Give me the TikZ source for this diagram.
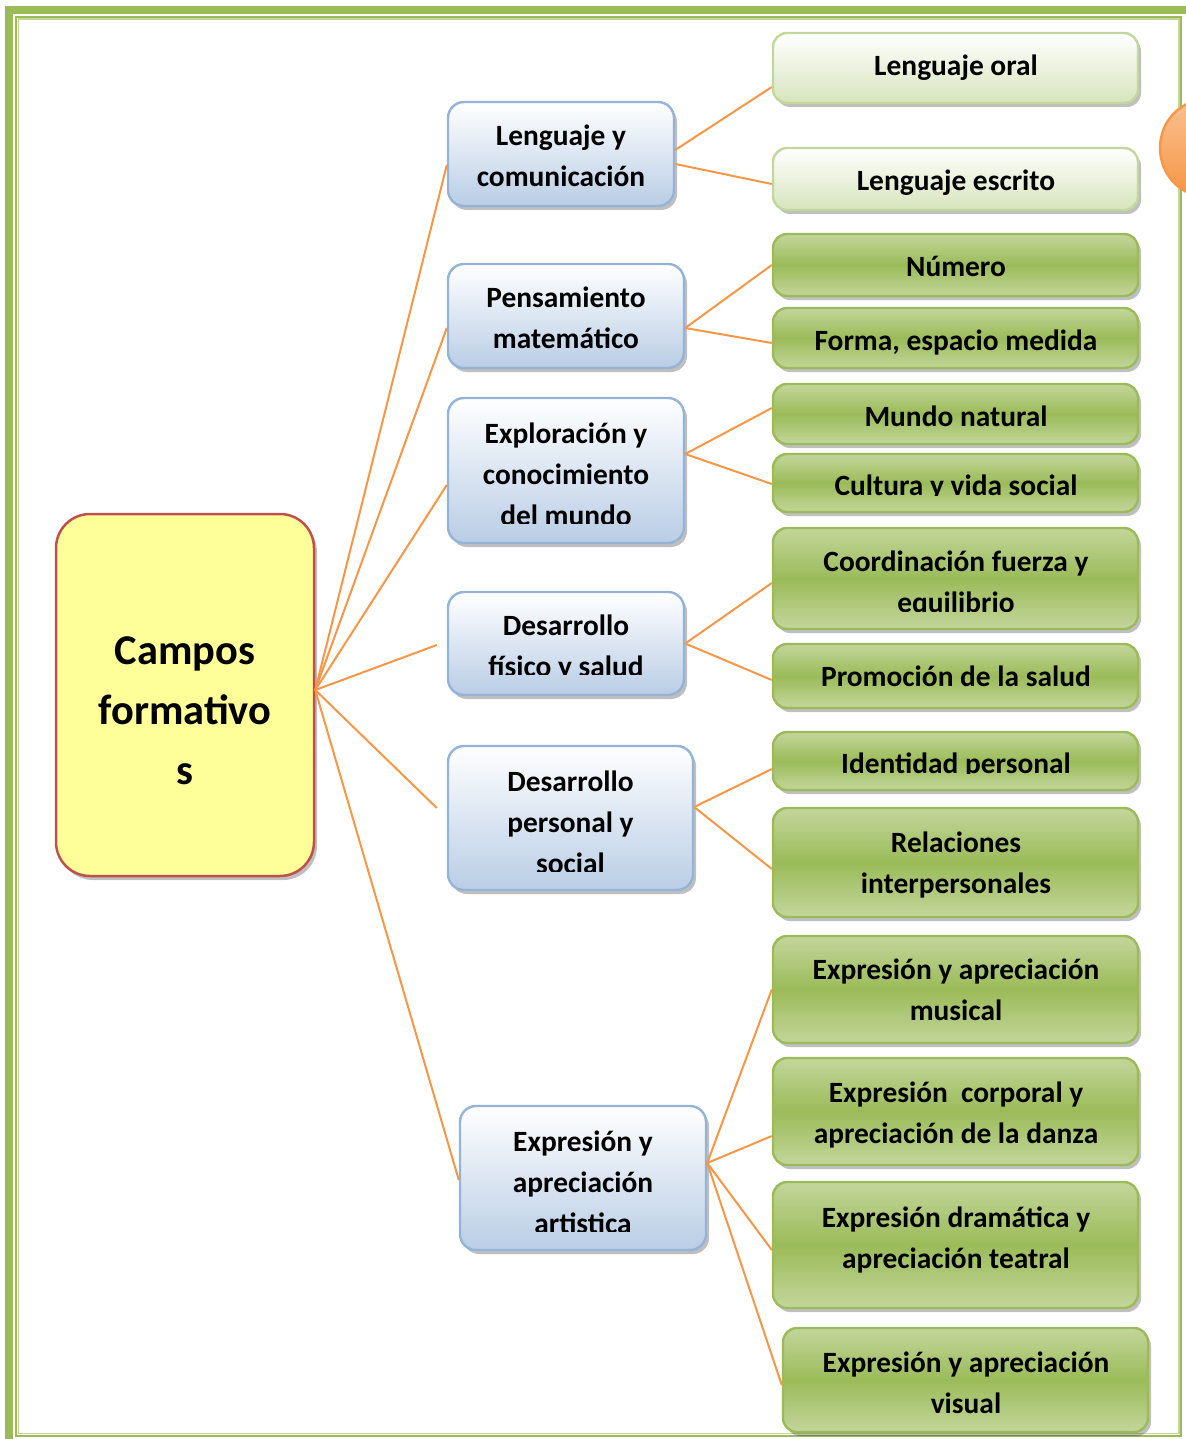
\documentclass[tikz,border=0pt]{standalone}
\usepackage{fontspec}
\setmainfont{Carlito}
\usetikzlibrary{shapes.geometric,shadows,calc}
\definecolor{grn}{HTML}{9BBB59}
\definecolor{grnl}{HTML}{C3D69B}
\definecolor{grnll}{HTML}{D7E4BD}
\definecolor{blu}{HTML}{95B3D7}
\definecolor{blul}{HTML}{B9CDE5}
\definecolor{ylw}{HTML}{FFFF99}
\definecolor{redb}{HTML}{C0504D}
\definecolor{org}{HTML}{F79646}
\definecolor{orgl}{HTML}{FAC08F}
\newcommand\lnst{\rule[-4pt]{0pt}{16.5pt}}
\newcommand\bgst{\rule[-5pt]{0pt}{22pt}}
\tikzset{
  shd/.style={drop shadow={shadow xshift=1.5pt,shadow yshift=-2pt,opacity=0.25,fill=black}},
  cbox/.style={rectangle,rounded corners=17pt,draw=redb,line width=1.25pt,fill=ylw,shd,inner sep=0pt},
  bbox/.style={rectangle,rounded corners=8pt,draw=blu,line width=1.2pt,top color=white,bottom color=blul,shd,inner sep=0pt},
  lgbox/.style={rectangle,rounded corners=7pt,draw=grnl,line width=1.2pt,top color=white,bottom color=grnll,shd,inner sep=0pt},
  gbox/.style={rectangle,rounded corners=7pt,draw=grn,line width=1.2pt,top color=grnl,bottom color=grnl,middle color=grn,shd,inner sep=0pt},
  txt/.style={align=center,font=\fontsize{14.7}{20.5}\selectfont\bfseries,inner sep=0pt},
  bigtxt/.style={align=center,font=\fontsize{21.2}{30}\selectfont\bfseries,inner sep=0pt},
  con/.style={draw=org,line width=1pt}
}
\begin{document}
\begin{tikzpicture}[x=0.5pt,y=-0.5pt]
\useasboundingbox (0,0) rectangle (1185,1439);
% page border
\draw[grn,line width=4.25pt] (9,9.8) rectangle (1196,1450);
\draw[grn,line width=0.9pt] (16.2,17) rectangle (1181,1436);
\draw[grnl,line width=0.75pt] (18.4,19.2) rectangle (1179.2,1433.6);
% orange ellipse at the right edge
\node[ellipse,minimum width=45pt,minimum height=48pt,draw=org,line width=1.2pt,top color=orgl,bottom color=org,inner sep=0pt] (ov) at (1205,148) {};

% central node
\node[cbox,minimum width=129pt,minimum height=181pt] (c) at (185,695) {};
\node[bigtxt] (ct) at (185,712) {\bgst Campos\\\bgst formativo\\\bgst s};

% level 1 (blue)
\node[bbox,minimum width=113pt,minimum height=52pt] (b1) at (561,154) {};
\node[bbox,minimum width=118pt,minimum height=52pt] (b2) at (566,316) {};
\node[bbox,minimum width=118pt,minimum height=72.5pt] (b3) at (566,470.5) {};
\node[bbox,minimum width=118pt,minimum height=51.5pt] (b4) at (566,643.5) {};
\node[bbox,minimum width=122.5pt,minimum height=72pt] (b5) at (570.5,818) {};
\node[bbox,minimum width=123pt,minimum height=72pt] (b6) at (583,1178) {};

\node[txt] (t1) at (561,158) {\lnst Lenguaje y\\\lnst comunicación};
\node[txt] (t2) at (566,319.5) {\lnst Pensamiento\\\lnst matemático};
\begin{scope}
\clip (440,390) rectangle (700,523);
\node[txt] (t3) at (566,476) {\lnst Exploración y\\\lnst conocimiento\\\lnst del mundo};
\end{scope}
\begin{scope}
\clip (440,585) rectangle (700,674.5);
\node[txt] (t4) at (566,647.5) {\lnst Desarrollo\\\lnst físico y salud};
\end{scope}
\begin{scope}
\clip (440,740) rectangle (700,871);
\node[txt] (t5) at (570.5,824) {\lnst Desarrollo\\\lnst personal y\\\lnst social};
\end{scope}
\begin{scope}
\clip (450,1100) rectangle (720,1231);
\node[txt] (t6) at (583,1184) {\lnst Expresión y\\\lnst apreciación\\\lnst artistica};
\end{scope}

% level 2 (green)
\node[lgbox,minimum width=182.5pt,minimum height=35pt] (ga) at (955.5,68) {};
\node[lgbox,minimum width=182.5pt,minimum height=31pt] (gb) at (955.5,179) {};
\node[gbox,minimum width=182.5pt,minimum height=31pt] (gc) at (955.5,265) {};
\node[gbox,minimum width=182.5pt,minimum height=30pt] (gd) at (955.5,338) {};
\node[gbox,minimum width=182.5pt,minimum height=30pt] (ge) at (955.5,414) {};
\node[gbox,minimum width=182.5pt,minimum height=29pt] (gf) at (955.5,483) {};
\node[gbox,minimum width=182.5pt,minimum height=50.5pt] (gg) at (955.5,578.5) {};
\node[gbox,minimum width=182.5pt,minimum height=32pt] (gh) at (955.5,676) {};
\node[gbox,minimum width=182.5pt,minimum height=29pt] (gi) at (955.5,761) {};
\node[gbox,minimum width=182.5pt,minimum height=54.5pt] (gj) at (955.5,862.5) {};
\node[gbox,minimum width=182.5pt,minimum height=53.5pt] (gk) at (955.5,989.5) {};
\node[gbox,minimum width=182.5pt,minimum height=53.5pt] (gl) at (955.5,1111.5) {};
\node[gbox,minimum width=182.5pt,minimum height=63pt] (gm) at (955.5,1245) {};
\node[gbox,minimum width=182.5pt,minimum height=52pt] (gn) at (965.5,1380) {};

\node[txt] (ta) at (956,67) {\lnst Lenguaje oral};
\node[txt] (tb) at (956,182) {\lnst Lenguaje escrito};
\node[txt] (tc) at (956,268) {\lnst Número};
\node[txt] (td) at (956,342) {\lnst Forma, espacio medida};
\node[txt] (te) at (956,418) {\lnst Mundo natural};
\begin{scope}
\clip (780,450) rectangle (1130,495);
\node[txt] (tf) at (956,487) {\lnst Cultura y vida social};
\end{scope}
\begin{scope}
\clip (780,520) rectangle (1130,611.5);
\node[txt] (tg) at (956,583.5) {\lnst Coordinación fuerza y\\\lnst equilibrio};
\end{scope}
\node[txt] (th) at (956,678) {\lnst Promoción de la salud};
\begin{scope}
\clip (780,725) rectangle (1130,773);
\node[txt] (ti) at (956,765) {\lnst Identidad personal};
\end{scope}
\node[txt] (tj) at (956,864) {\lnst Relaciones\\\lnst interpersonales};
\node[txt] (tk) at (956,991.5) {\lnst Expresión y apreciación\\\lnst musical};
\node[txt] (tl) at (956,1114) {\lnst Expresión\ \ corporal y\\\lnst apreciación de la danza};
\node[txt] (tm) at (956,1239) {\lnst Expresión dramática y\\\lnst apreciación teatral};
\node[txt] (tn) at (966,1384) {\lnst Expresión y apreciación\\\lnst visual};

% connectors: centre to level 1
\draw[con] ($(c.east)+(0,-5)$) -- ($(b1.west)+(0,11)$);
\draw[con] ($(c.east)+(0,-5)$) -- ($(b2.west)+(0,12)$);
\draw[con] ($(c.east)+(0,-5)$) -- ($(b3.west)+(0,14.5)$);
\draw[con] ($(c.east)+(0,-5)$) -- ($(b4.west)+(-10,1.5)$);
\draw[con] ($(c.east)+(0,-5)$) -- ($(b5.west)+(-10,-10)$);
\draw[con] ($(c.east)+(0,-5)$) -- ($(b6.west)+(0,2)$);
% level 1 to level 2
\draw[con] ($(b1.east)+(0,-4)$) -- ($(ga.west)+(0,19)$);
\draw[con] ($(b1.east)+(0,10)$) -- ($(gb.west)+(0,5)$);
\draw[con] ($(b2.east)+(0,12)$) -- (gc.west);
\draw[con] ($(b2.east)+(0,12)$) -- ($(gd.west)+(0,5)$);
\draw[con] ($(b3.east)+(0,-16.5)$) -- ($(ge.west)+(0,-6)$);
\draw[con] ($(b3.east)+(0,-16.5)$) -- ($(gf.west)+(0,1)$);
\draw[con] (b4.east) -- ($(gg.west)+(0,4.5)$);
\draw[con] (b4.east) -- ($(gh.west)+(0,4)$);
\draw[con] ($(b5.east)+(0,-11)$) -- ($(gi.west)+(0,8)$);
\draw[con] ($(b5.east)+(0,-11)$) -- ($(gj.west)+(0,6.5)$);
\draw[con] ($(b6.east)+(0,-15)$) -- (gk.west);
\draw[con] ($(b6.east)+(0,-15)$) -- ($(gl.west)+(0,24.5)$);
\draw[con] ($(b6.east)+(0,-15)$) -- ($(gm.west)+(0,5)$);
\draw[con] ($(b6.east)+(0,-15)$) -- ($(gn.west)+(0,5)$);
\end{tikzpicture}
\end{document}
